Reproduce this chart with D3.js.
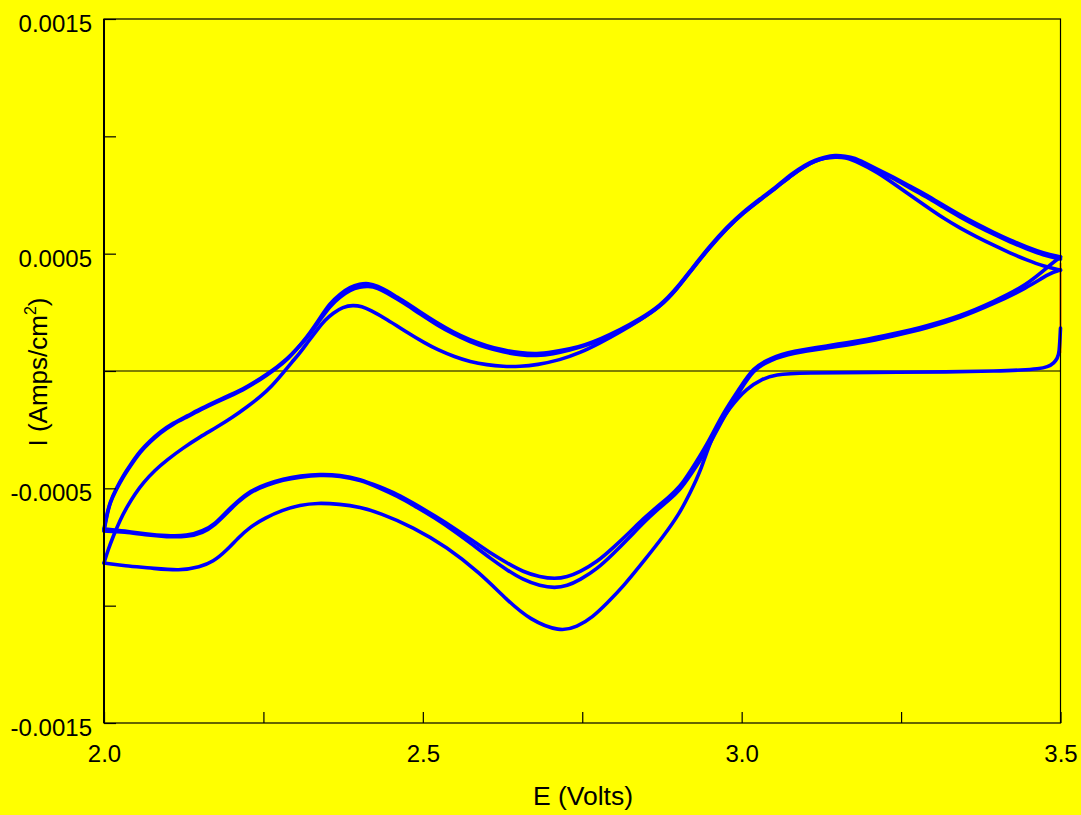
<!DOCTYPE html>
<html>
<head>
<meta charset="utf-8">
<script src="https://cdn.jsdelivr.net/npm/d3@7"></script>
<style>
  body { margin: 0; background: #ffff00; }
  svg { display: block; font-family: "Liberation Sans", Arial, sans-serif; }
</style>
</head>
<body>
<script>
// sweeps, [E (V), I (A/cm2)]
var cathodic1 = [
[3.500,1.83e-4],[3.498,0.72e-4],[3.495,0.55e-4],[3.490,0.34e-4],[3.480,0.17e-4],[3.465,0.09e-4],
[3.440,0.04e-4],[3.400,0.00],[3.330,-0.04e-4],[3.200,-0.06e-4],[3.100,-0.08e-4],[3.050,-0.15e-4],
[3.0334,-0.34e-4],[3.0083,-0.72e-4],[2.9817,-1.54e-4],[2.9550,-2.64e-4],[2.9346,-4.35e-4],
[2.9189,-5.20e-4],[2.9032,-6.05e-4],[2.8766,-7.07e-4],[2.8515,-7.93e-4],[2.8139,-9.20e-4],
[2.7888,-9.89e-4],[2.7668,-10.48e-4],[2.7417,-10.91e-4],[2.7151,-11.12e-4],
[2.6680,-10.61e-4],[2.6320,-9.76e-4],[2.5896,-8.61e-4],[2.5379,-7.50e-4],[2.4846,-6.65e-4],
[2.4328,-6.05e-4],[2.4014,-5.80e-4],[2.3700,-5.67e-4],[2.3340,-5.62e-4],[2.3073,-5.71e-4],
[2.2807,-5.92e-4],[2.2525,-6.26e-4],[2.2289,-6.65e-4],[2.2101,-7.12e-4],[2.1929,-7.63e-4],
[2.1709,-8.14e-4],[2.1505,-8.35e-4],[2.1192,-8.52e-4],[2.0721,-8.39e-4],[2.0330,-8.31e-4],
[2.0000,-8.18e-4]
];

var anodic1 = [
[2.0000,-8.18e-4],[2.0063,-7.63e-4],[2.0141,-7.07e-4],[2.0251,-6.35e-4],[2.0361,-5.79e-4],
[2.0486,-5.24e-4],[2.0612,-4.77e-4],[2.0800,-4.22e-4],[2.0988,-3.79e-4],[2.1239,-3.28e-4],
[2.1505,-2.81e-4],[2.1772,-2.39e-4],[2.2023,-1.96e-4],[2.2242,-1.53e-4],[2.2446,-1.11e-4],
[2.2634,-0.64e-4],[2.2807,-0.085e-4],[2.2948,0.38e-4],[2.3073,0.77e-4],[2.3199,1.24e-4],
[2.3340,1.75e-4],[2.3465,2.17e-4],[2.3591,2.47e-4],[2.3748,2.73e-4],[2.3905,2.81e-4],
[2.4046,2.75e-4],[2.4171,2.60e-4],[2.4438,2.20e-4],[2.4751,1.65e-4],[2.5034,1.19e-4],
[2.5222,0.92e-4],[2.5504,0.60e-4],[2.5739,0.40e-4],[2.6006,0.26e-4],[2.6257,0.19e-4],
[2.6524,0.19e-4],[2.6790,0.26e-4],[2.7151,0.47e-4],[2.7464,0.77e-4],[2.7778,1.19e-4],
[2.8091,1.66e-4],[2.8405,2.17e-4],[2.8719,2.73e-4],[2.8986,3.49e-4],[2.9236,4.39e-4],
[2.9503,5.28e-4],[2.9770,6.09e-4],[3.0020,6.73e-4],[3.0287,7.29e-4],[3.0554,7.84e-4],
[3.0804,8.39e-4],[3.0992,8.73e-4],[3.1149,8.95e-4],[3.1306,9.08e-4],[3.1463,9.12e-4],
[3.1620,9.12e-4],[3.1855,8.86e-4],[3.2122,8.48e-4],[3.2373,8.01e-4],[3.2639,7.50e-4],
[3.2906,6.99e-4],[3.3157,6.52e-4],[3.3423,6.09e-4],[3.3690,5.71e-4],[3.3941,5.37e-4],
[3.4207,5.03e-4],[3.4474,4.73e-4],[3.4725,4.47e-4],[3.5000,4.30e-4]
];

var cathodic2 = [
[3.5000,4.30e-4],[3.4835,4.18e-4],[3.4474,3.54e-4],[3.3941,2.85e-4],[3.3423,2.26e-4],
[3.2906,1.83e-4],[3.2373,1.49e-4],[3.1855,1.19e-4],[3.1338,0.98e-4],[3.0804,0.77e-4],
[3.0444,0.47e-4],[3.0177,0.04e-4],[2.9973,-0.85e-4],[2.9707,-2.00e-4],[2.9456,-3.37e-4],
[2.9189,-4.47e-4],[2.9032,-5.07e-4],[2.8844,-5.54e-4],[2.8672,-5.92e-4],[2.8452,-6.48e-4],
[2.8248,-7.07e-4],[2.7982,-7.80e-4],[2.7731,-8.44e-4],[2.7464,-8.90e-4],[2.7261,-9.16e-4],
[2.7072,-9.25e-4],[2.6837,-9.16e-4],[2.6571,-8.90e-4],[2.6320,-8.48e-4],[2.6053,-7.97e-4],
[2.5786,-7.41e-4],[2.5536,-6.90e-4],[2.5191,-6.26e-4],[2.4846,-5.71e-4],[2.4595,-5.33e-4],
[2.4328,-4.99e-4],[2.4014,-4.64e-4],[2.3701,-4.47e-4],[2.3387,-4.43e-4],[2.3073,-4.52e-4],
[2.2807,-4.64e-4],[2.2556,-4.86e-4],[2.2289,-5.16e-4],[2.2085,-5.62e-4],[2.1929,-6.05e-4],
[2.1741,-6.56e-4],[2.1552,-6.90e-4],[2.1302,-7.07e-4],[2.0988,-7.07e-4],[2.0643,-6.99e-4],
[2.0329,-6.86e-4],[2.0000,-6.82e-4]
];

var anodic2 = [
[2.0000,-6.82e-4],[2.0047,-6.14e-4],[2.0094,-5.62e-4],[2.0188,-5.07e-4],[2.0298,-4.52e-4],
[2.0423,-4.01e-4],[2.0565,-3.45e-4],[2.0721,-3.03e-4],[2.0878,-2.64e-4],[2.1082,-2.26e-4],
[2.1302,-1.96e-4],[2.1537,-1.62e-4],[2.1772,-1.32e-4],[2.1976,-1.07e-4],[2.2180,-0.81e-4],
[2.2368,-0.51e-4],[2.2556,-0.17e-4],[2.2713,0.13e-4],[2.2870,0.47e-4],[2.3026,0.94e-4],
[2.3183,1.45e-4],[2.3356,2.13e-4],[2.3544,2.90e-4],[2.3701,3.28e-4],[2.3858,3.58e-4],
[2.4014,3.71e-4],[2.4140,3.75e-4],[2.4297,3.62e-4],[2.4438,3.41e-4],[2.4595,3.15e-4],
[2.4751,2.90e-4],[2.4955,2.51e-4],[2.5222,2.05e-4],[2.5473,1.66e-4],[2.5739,1.32e-4],
[2.6006,1.07e-4],[2.6257,0.89e-4],[2.6524,0.77e-4],[2.6790,0.72e-4],[2.7041,0.81e-4],
[2.7307,0.94e-4],[2.7543,1.11e-4],[2.7778,1.36e-4],[2.8091,1.75e-4],[2.8405,2.22e-4],
[2.8719,2.77e-4],[2.8986,3.54e-4],[2.9236,4.43e-4],[2.9503,5.33e-4],[2.9770,6.14e-4],
[3.0020,6.77e-4],[3.0287,7.33e-4],[3.0554,7.88e-4],[3.0804,8.44e-4],[3.0992,8.78e-4],
[3.1149,8.99e-4],[3.1306,9.12e-4],[3.1463,9.20e-4],[3.1620,9.16e-4],[3.1777,9.08e-4],
[3.1933,8.86e-4],[3.2122,8.61e-4],[3.2373,8.27e-4],[3.2639,7.88e-4],[3.2906,7.50e-4],
[3.3157,7.07e-4],[3.3423,6.65e-4],[3.3690,6.26e-4],[3.3941,5.92e-4],[3.4207,5.58e-4],
[3.4474,5.28e-4],[3.4725,5.03e-4],[3.5000,4.86e-4]
];

var cathodic3 = [
[3.5000,4.86e-4],[3.4835,4.52e-4],[3.4474,3.66e-4],[3.3941,2.94e-4],[3.3423,2.34e-4],
[3.2906,1.92e-4],[3.2373,1.58e-4],[3.1855,1.28e-4],[3.1338,1.07e-4],[3.0804,0.85e-4],
[3.0444,0.55e-4],[3.0177,0.13e-4],[2.9973,-0.72e-4],[2.9707,-1.79e-4],[2.9456,-3.15e-4],
[2.9189,-4.30e-4],[2.9032,-4.94e-4],[2.8844,-5.41e-4],[2.8672,-5.79e-4],[2.8452,-6.31e-4],
[2.8248,-6.86e-4],[2.7982,-7.54e-4],[2.7731,-8.14e-4],[2.7464,-8.56e-4],[2.7261,-8.78e-4],
[2.7072,-8.86e-4],[2.6837,-8.78e-4],[2.6571,-8.56e-4],[2.6320,-8.18e-4],[2.6053,-7.75e-4],
[2.5786,-7.24e-4],[2.5536,-6.77e-4],[2.5191,-6.18e-4],[2.4846,-5.62e-4],[2.4595,-5.24e-4],
[2.4328,-4.94e-4],[2.4014,-4.60e-4],[2.3701,-4.43e-4],[2.3387,-4.39e-4],[2.3073,-4.47e-4],
[2.2807,-4.60e-4],[2.2556,-4.81e-4],[2.2289,-5.11e-4],[2.2085,-5.58e-4],[2.1929,-5.97e-4],
[2.1741,-6.52e-4],[2.1552,-6.82e-4],[2.1302,-7.03e-4],[2.0988,-7.03e-4],[2.0643,-6.94e-4],
[2.0329,-6.82e-4],[2.0000,-6.73e-4]
];

var anodic3 = [
[2.0000,-6.73e-4],[2.0047,-6.09e-4],[2.0094,-5.58e-4],[2.0188,-5.03e-4],[2.0298,-4.47e-4],
[2.0423,-3.96e-4],[2.0565,-3.41e-4],[2.0721,-2.98e-4],[2.0878,-2.60e-4],[2.1082,-2.22e-4],
[2.1302,-1.92e-4],[2.1537,-1.58e-4],[2.1772,-1.28e-4],[2.1976,-1.02e-4],[2.2180,-0.77e-4],
[2.2368,-0.47e-4],[2.2556,-0.13e-4],[2.2713,0.17e-4],[2.2870,0.51e-4],[2.3026,0.94e-4],
[2.3183,1.41e-4],[2.3356,2.05e-4],[2.3544,2.77e-4],[2.3701,3.15e-4],[2.3858,3.45e-4],
[2.4014,3.58e-4],[2.4140,3.62e-4],[2.4297,3.54e-4],[2.4438,3.32e-4],[2.4595,3.07e-4],
[2.4751,2.81e-4],[2.4955,2.43e-4],[2.5222,1.96e-4],[2.5473,1.58e-4],[2.5739,1.24e-4],
[2.6006,0.98e-4],[2.6257,0.81e-4],[2.6524,0.68e-4],[2.6790,0.64e-4],[2.7041,0.72e-4],
[2.7307,0.89e-4],[2.7543,1.07e-4],[2.7778,1.32e-4],[2.8091,1.70e-4],[2.8405,2.17e-4],
[2.8719,2.73e-4],[2.8986,3.49e-4],[2.9236,4.39e-4],[2.9503,5.28e-4],[2.9770,6.09e-4],
[3.0020,6.73e-4],[3.0287,7.29e-4],[3.0554,7.84e-4],[3.0804,8.39e-4],[3.0992,8.73e-4],
[3.1149,8.95e-4],[3.1306,9.08e-4],[3.1463,9.16e-4],[3.1620,9.12e-4],[3.1777,9.03e-4],
[3.1933,8.82e-4],[3.2122,8.56e-4],[3.2373,8.22e-4],[3.2639,7.80e-4],[3.2906,7.41e-4],
[3.3157,6.99e-4],[3.3423,6.56e-4],[3.3690,6.18e-4],[3.3941,5.84e-4],[3.4207,5.50e-4],
[3.4474,5.20e-4],[3.4725,4.94e-4],[3.5000,4.77e-4]
];

// potential hold at the vertex, drawn red
var hold = [[3.5,4.60e-4],[3.5,0.77e-4]];

var sweeps = [cathodic1, anodic1, cathodic2, anodic2, cathodic3, anodic3];

var xTicks = [2.0, 2.25, 2.5, 2.75, 3.0, 3.25, 3.5];
var xTickLabels = ["2.0", "", "2.5", "", "3.0", "", "3.5"];
var yTicks = [-0.0015, -0.001, -0.0005, 0, 0.0005, 0.001, 0.0015];
var yTickLabels = ["-0.0015", "", "-0.0005", "", "0.0005", "", "0.0015"];

var width = 1081, height = 815;
var plot = {left: 104, right: 1060.5, top: 19, bottom: 723};

var svg = d3.select("body").append("svg")
    .attr("width", width)
    .attr("height", height);

svg.append("rect")
    .attr("width", width).attr("height", height)
    .attr("fill", "#ffff00");

var x = d3.scaleLinear().domain([2.0, 3.5]).range([plot.left, plot.right]);
var y = d3.scaleLinear().domain([-0.0015, 0.0015]).range([plot.bottom, plot.top]);

var line = d3.line()
    .x(function(d) { return x(d[0]); })
    .y(function(d) { return y(d[1]); })
    .curve(d3.curveBasis);

// zero line
svg.append("line")
    .attr("x1", plot.left).attr("x2", plot.right)
    .attr("y1", y(0)).attr("y2", y(0))
    .attr("stroke", "#000").attr("stroke-width", 1.2);

svg.append("path")
    .attr("d", line(hold))
    .attr("fill", "none")
    .attr("stroke", "#ff0000")
    .attr("stroke-width", 1.6);

svg.selectAll(".sweep")
    .data(sweeps)
    .enter().append("path")
    .attr("class", "sweep")
    .attr("d", line)
    .attr("fill", "none")
    .attr("stroke", "#0000ff")
    .attr("stroke-width", 3.6)
    .attr("stroke-linejoin", "round")
    .attr("stroke-linecap", "round");

var xAxis = svg.append("g")
    .attr("transform", "translate(0," + plot.bottom + ")")
    .call(d3.axisBottom(x)
        .tickValues(xTicks)
        .tickSizeInner(-11).tickSizeOuter(0)
        .tickPadding(22)
        .tickFormat(function(d, i) { return xTickLabels[i]; }));

var yAxis = svg.append("g")
    .attr("transform", "translate(" + plot.left + ",0)")
    .call(d3.axisLeft(y)
        .tickValues(yTicks)
        .tickSizeInner(-12).tickSizeOuter(0)
        .tickPadding(12)
        .tickFormat(function(d, i) { return yTickLabels[i]; }));

[xAxis, yAxis].forEach(function(g) {
  g.select(".domain").remove();
  g.selectAll("line").attr("stroke", "#000").attr("stroke-width", 1.2);
  g.selectAll("text")
      .attr("font-size", 24)
      .attr("font-family", "'Liberation Sans', Arial, sans-serif")
      .attr("fill", "#000");
});
yAxis.selectAll("text").attr("dy", "0.52em");

// frame
svg.append("rect")
    .attr("x", plot.left).attr("y", plot.top)
    .attr("width", plot.right - plot.left)
    .attr("height", plot.bottom - plot.top)
    .attr("fill", "none")
    .attr("stroke", "#000")
    .attr("stroke-width", 1.2);
svg.append("line")
    .attr("x1", plot.left).attr("x2", plot.left)
    .attr("y1", plot.top).attr("y2", plot.bottom)
    .attr("stroke", "#000").attr("stroke-width", 2);

svg.append("text")
    .attr("x", 583).attr("y", 805)
    .attr("text-anchor", "middle")
    .attr("font-size", 26.5)
    .text("E (Volts)");

var ylab = svg.append("text")
    .attr("transform", "translate(47," + 372 + ") rotate(-90)")
    .attr("text-anchor", "middle")
    .attr("font-size", 26);
ylab.append("tspan").text("I (Amps/cm");
ylab.append("tspan").attr("font-size", 16).attr("dy", -11).text("2");
ylab.append("tspan").attr("dy", 11).text(")");
</script>
</body>
</html>
